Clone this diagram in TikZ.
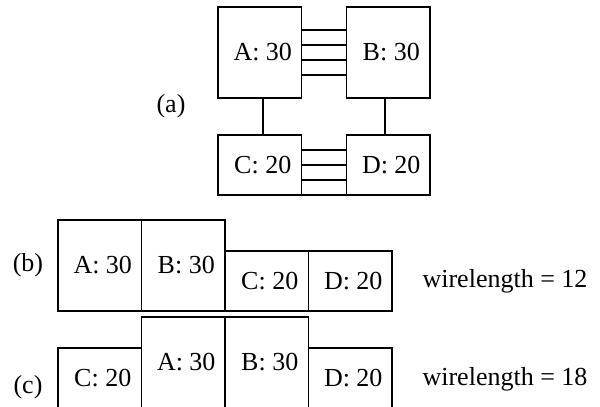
\documentclass[tikz,border=0pt]{standalone}
\usepackage{fontspec}
\setmainfont{Liberation Serif}
\usetikzlibrary{positioning}

\begin{document}
\begin{tikzpicture}[x=0.5pt, y=-0.5pt,
  blk/.style={draw, line width=0.6pt, inner sep=0pt, outer sep=0pt, minimum width=41.75pt,
    font=\fontsize{13}{15}\selectfont, execute at begin node={\hspace*{3pt}}},
  tall/.style={blk, minimum height=45.5pt},
  short/.style={blk, minimum height=30pt},
  wire/.style={line width=1.1pt},
  lab/.style={inner sep=0pt, font=\fontsize{13}{15}\selectfont}]
  \useasboundingbox (0,0) rectangle (600,407);
  % (a) the four cells and their nets
  \node[tall, anchor=south west] (aA) at (218,98) {A: 30};
  \node[tall, right=22.5pt of aA] (aB) {B: 30};
  \node[short, anchor=south west] (aC) at (218,195) {C: 20};
  \node[short, right=22.5pt of aC] (aD) {D: 20};
  \foreach \d in {11.5,19,26.5,34}
    \draw[wire] ([yshift=-\d pt]aA.north east) -- ([yshift=-\d pt]aB.north west);
  \foreach \d in {7.5,15,22.5,30}
    \draw[wire] ([yshift=-\d pt]aC.north east) -- ([yshift=-\d pt]aD.north west);
  \draw[wire] ([xshift=1.75pt]aA.south) -- ([xshift=1.75pt]aC.north);
  \draw[wire] ([xshift=-1.75pt]aB.south) -- ([xshift=-1.75pt]aD.north);
  \node[lab] (la) at (171,106) {(a)};
  % (b) placement A B C D
  \node[tall, anchor=south west] (bA) at (58,311) {A: 30};
  \node[tall, anchor=south west] (bB) at (bA.south east) {B: 30};
  \node[short, anchor=south west] (bC) at (bB.south east) {C: 20};
  \node[short, anchor=south west] (bD) at (bC.south east) {D: 20};
  \node[lab] (lb) at (28,265) {(b)};
  \node[lab] (wb) at (505,281) {wirelength = 12};
  % (c) placement C A B D
  \node[short, anchor=south west] (cC) at (58,408) {C: 20};
  \node[tall, anchor=south west] (cA) at (cC.south east) {A: 30};
  \node[tall, anchor=south west] (cB) at (cA.south east) {B: 30};
  \node[short, anchor=south west] (cD) at (cB.south east) {D: 20};
  \node[lab] (lc) at (28,387) {(c)};
  \node[lab] (wc) at (505,379) {wirelength = 18};
\end{tikzpicture}
\end{document}
